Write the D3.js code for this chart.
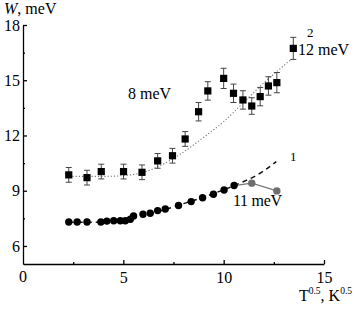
<!DOCTYPE html>
<html><head><meta charset="utf-8">
<script src="https://cdn.jsdelivr.net/npm/d3@7"></script>
<style>body{margin:0;background:#fff}svg{display:block}svg text{font-family:"Liberation Serif","Times New Roman",Times,serif;fill:#000}</style>
</head><body><svg id="c" width="354" height="310"></svg>
<script>
// Series 2 (squares with error bars)
const sqX = [2.28, 3.19, 3.9, 5.01, 5.93, 6.71, 7.45, 8.08, 8.75, 9.21, 10.0, 10.49, 10.96, 11.4, 11.82, 12.23, 12.65, 13.47];
const sqY = [9.86, 9.71, 10.04, 10.04, 10.0, 10.62, 10.9, 11.81, 13.29, 14.42, 15.1, 14.29, 13.93, 13.6, 14.11, 14.69, 14.87, 16.73];
const sqErr = [0.4, 0.4, 0.4, 0.4, 0.4, 0.4, 0.4, 0.4, 0.5, 0.5, 0.55, 0.5, 0.5, 0.45, 0.5, 0.5, 0.55, 0.6];
// Series 1 (black circles)
const cX = [2.28, 2.7, 3.19, 3.88, 4.18, 4.52, 4.85, 5.1, 5.35, 5.51, 5.98, 6.34, 6.71, 7.09, 7.75, 8.38, 8.95, 9.49, 10.02, 10.52];
const cY = [7.3, 7.3, 7.3, 7.3, 7.35, 7.37, 7.37, 7.37, 7.45, 7.63, 7.72, 7.78, 7.92, 8.01, 8.2, 8.41, 8.62, 8.81, 9.04, 9.28];
// Grey points
const gX = [10.52, 11.4, 12.65];
const gY = [9.28, 9.41, 8.99];
// Fit curve 1 (dashed)
const f1X = [2.28, 4.0, 5.0, 5.5, 6.0, 7.0, 8.0, 9.0, 10.0, 11.0, 11.5, 12.0, 12.62];
const f1Y = [7.28, 7.3, 7.4, 7.5, 7.65, 7.95, 8.3, 8.65, 9.05, 9.5, 9.75, 10.08, 10.58];
// Fit curve 2 (dotted)
const f2X = [2.3, 4.0, 5.0, 6.0, 7.0, 8.0, 9.0, 10.0, 11.0, 12.0, 13.0, 13.35];
const f2Y = [9.78, 9.78, 9.82, 10.0, 10.45, 11.1, 11.9, 12.75, 13.8, 14.85, 15.8, 16.12];
// Ticks
const xTicks = [0, 5, 10, 15];
const xMinor = [2.5, 7.5, 12.5];
const yTicks = [6, 9, 12, 15, 18];
const yMinor = [7.5, 10.5, 13.5, 16.5];

const FONT = '"Liberation Serif","Times New Roman",Times,serif';
const svg = d3.select("#c");
const x = d3.scaleLinear().domain([0, 15]).range([23, 324]);
const y = d3.scaleLinear().domain([5.02, 18]).range([264, 25]);

// axes
const xAxis = d3.axisBottom(x).tickValues(xTicks.filter(d => d > 0)).tickSize(-4).tickSizeOuter(0).tickPadding(7).tickFormat(d3.format("d"));
const gx = svg.append("g").attr("transform", "translate(0,264)").call(xAxis).attr("font-family", FONT);
gx.selectAll(".tick text").attr("font-size", 16).style("font-family", FONT).attr("dy", "0.72em");
gx.selectAll("path,line").attr("stroke", "#000").attr("stroke-width", 1.3);
svg.append("g").attr("transform", "translate(0,264)")
  .call(d3.axisBottom(x).tickValues(xMinor).tickSize(-2).tickFormat(""))
  .call(g => g.select(".domain").remove())
  .selectAll("line").attr("stroke", "#000").attr("stroke-width", 1.3);
svg.append("text").attr("x", x(0)).attr("y", 282).attr("text-anchor", "middle").attr("font-size", 16).style("font-family", FONT).text("0");

const yAxis = d3.axisLeft(y).tickValues(yTicks).tickSize(-4).tickSizeOuter(0).tickPadding(3).tickFormat(d3.format("d"));
const gy = svg.append("g").attr("transform", "translate(23,0)").call(yAxis).attr("font-family", FONT);
gy.selectAll(".tick text").attr("font-size", 16).style("font-family", FONT);
gy.selectAll("path,line").attr("stroke", "#000").attr("stroke-width", 1.3);
svg.append("g").attr("transform", "translate(23,0)")
  .call(d3.axisLeft(y).tickValues(yMinor).tickSize(-2).tickFormat(""))
  .call(g => g.select(".domain").remove())
  .selectAll("line").attr("stroke", "#000").attr("stroke-width", 1.3);

// fit curves
const line = d3.line().x(d => x(d[0])).y(d => y(d[1])).curve(d3.curveMonotoneX);
svg.append("path").datum(f2X.map((v, i) => [v, f2Y[i]]))
  .attr("d", line).attr("fill", "none").attr("stroke", "#777").attr("stroke-width", 1.1).attr("stroke-dasharray", "1.2,2");
svg.append("path").datum(f1X.map((v, i) => [v, f1Y[i]]))
  .attr("d", line).attr("fill", "none").attr("stroke", "#111").attr("stroke-width", 1.5).attr("stroke-dasharray", "5,4");

// grey line and points
const gl = d3.line().x(d => x(d[0])).y(d => y(d[1]));
svg.append("path").datum(gX.map((v, i) => [v, gY[i]]))
  .attr("d", gl).attr("fill", "none").attr("stroke", "#777").attr("stroke-width", 1.2);
svg.append("g").selectAll("circle").data(gX.slice(1).map((v, i) => [v, gY[i + 1]])).join("circle")
  .attr("cx", d => x(d[0])).attr("cy", d => y(d[1])).attr("r", 3.7).attr("fill", "#6e6e6e");

// black circles
svg.append("g").selectAll("circle").data(cX.map((v, i) => [v, cY[i]])).join("circle")
  .attr("cx", d => x(d[0])).attr("cy", d => y(d[1])).attr("r", 3.7).attr("fill", "#000");

// error bars
const sq = sqX.map((v, i) => ({x: v, y: sqY[i], e: sqErr[i]}));
const eb = svg.append("g").attr("stroke", "#444").attr("stroke-width", 1);
eb.selectAll(".v").data(sq).join("line")
  .attr("x1", d => x(d.x)).attr("x2", d => x(d.x)).attr("y1", d => y(d.y - d.e)).attr("y2", d => y(d.y + d.e));
eb.selectAll(".t").data(sq).join("line")
  .attr("x1", d => x(d.x) - 3).attr("x2", d => x(d.x) + 3).attr("y1", d => y(d.y + d.e)).attr("y2", d => y(d.y + d.e));
eb.selectAll(".b").data(sq).join("line")
  .attr("x1", d => x(d.x) - 3).attr("x2", d => x(d.x) + 3).attr("y1", d => y(d.y - d.e)).attr("y2", d => y(d.y - d.e));
svg.append("g").selectAll("rect").data(sq).join("rect")
  .attr("x", d => x(d.x) - 3.6).attr("y", d => y(d.y) - 3.6).attr("width", 7.2).attr("height", 7.2).attr("fill", "#000");

// labels
function txt(xp, yp, size, s) {
  return svg.append("text").attr("x", xp).attr("y", yp).attr("font-size", size).style("font-family", FONT).text(s);
}
const title = svg.append("text").attr("x", 4).attr("y", 14).attr("font-size", 16).style("font-family", FONT);
title.append("tspan").attr("font-style", "italic").text("W");
title.append("tspan").text(", meV");

const xl = svg.append("text").attr("x", 352).attr("y", 301).attr("text-anchor", "end").attr("font-size", 16).style("font-family", FONT);
xl.append("tspan").text("T");
xl.append("tspan").attr("font-size", 9.5).attr("dy", -7).text("0.5");
xl.append("tspan").attr("dy", 7).text(", K");
xl.append("tspan").attr("font-size", 9.5).attr("dy", -7).text("0.5");

txt(128, 99, 16, "8 meV");
txt(298, 55, 16, "12 meV");
txt(233, 206, 16, "11 meV").attr("letter-spacing", -0.3);
txt(307, 37, 13, "2");
txt(290, 161, 13, "1");
</script></body></html>
